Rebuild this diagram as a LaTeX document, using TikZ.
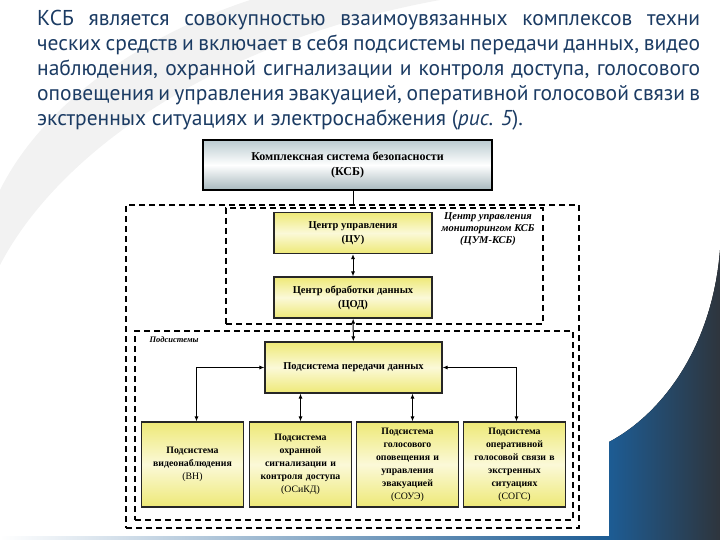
\documentclass[tikz,border=0pt]{standalone}
\usepackage{fontspec}
\setmainfont{PT Sans}
\newfontfamily\schemefont{Liberation Serif}
\usepackage{tikz}
\usetikzlibrary{arrows.meta,positioning,calc}
\definecolor{SlideBlue}{HTML}{1B3B63}
\definecolor{BoxYellow}{HTML}{EEE977}
\definecolor{BoxPale}{HTML}{FBF9D8}
\definecolor{SteelTop}{HTML}{BACBD0}
\definecolor{SteelBottom}{HTML}{A7B8BD}
\definecolor{CornerBlue}{HTML}{1D5C94}
\definecolor{CornerDark}{HTML}{2E353D}

\begin{document}
\begin{tikzpicture}[x=1pt, y=-1pt, >=Latex,
  ksbbox/.style={draw=black, line width=1.6pt, top color=SteelTop, bottom color=SteelBottom, middle color=white, minimum width=289pt, minimum height=50pt, align=center, font=\schemefont\bfseries\fontsize{12}{15}\selectfont},
  centre/.style={draw=black!85, line width=1.1pt, top color=BoxYellow, bottom color=BoxYellow, middle color=BoxPale, minimum width=158pt, minimum height=41pt, align=center, font=\schemefont\bfseries\fontsize{10.5}{14}\selectfont},
  sub/.style={centre, minimum width=99pt, minimum height=85pt, text width=95pt, font=\schemefont\bfseries\fontsize{9.8}{13}\selectfont},
  frame/.style={draw=black, line width=1.3pt, dash pattern=on 6pt off 4pt},
  tag/.style={font=\schemefont\bfseries\itshape\fontsize{10.5}{12}\selectfont, align=center},
  link/.style={{Latex[length=5pt,width=4pt]}-{Latex[length=5pt,width=4pt]}, line width=1pt}]
\useasboundingbox (0,0) rectangle (720,540);

% slide decoration
\fill[gray!10] (250,0) .. controls (130,40) and (40,110) .. (0,190) -- (0,265) .. controls (60,150) and (220,40) .. (440,0) -- cycle;
\fill[left color=CornerBlue, right color=CornerDark] (609,540) -- (609,442) .. controls (660,415) and (712,350) .. (720,250) -- (720,540) -- cycle;
\fill[left color=white, right color=CornerBlue] (0,536) rectangle (609,540);

% text
\node[anchor=north west, inner sep=0pt, text=SlideBlue, align=left, font=\fontsize{21.5}{25}\selectfont] (para) at (37,10) {%
\makebox[663pt][s]{КСБ является совокупностью взаимоувязанных комплексов техни}\\
\makebox[663pt][s]{ческих средств и включает в себя подсистемы передачи данных, видео}\\
\makebox[663pt][s]{наблюдения, охранной сигнализации и контроля доступа, голосового}\\
\makebox[663pt][s]{оповещения и управления эвакуацией, оперативной голосовой связи в}\\
экстренных ситуациях и электроснабжения (\textit{рис. 5}).};

% frames
\node[frame, minimum width=453pt, minimum height=323pt] (outer) at (352.5,366.5) {};
\node[frame, minimum width=317pt, minimum height=116pt] (cum) at (384.5,266) {};
\node[frame, minimum width=438pt, minimum height=189pt] (subs) at (354,425.5) {};
\node[tag] (cumlabel) at (488,229) {Центр управления\\мониторингом КСБ\\(ЦУМ-КСБ)};
\node[tag, anchor=west, font=\schemefont\bfseries\itshape\fontsize{8.5}{10}\selectfont] (sublabel) at (146,340) {Подсистемы};

% boxes
\node[ksbbox] (ksb) at (347.5,165) {Комплексная система безопасности\\(КСБ)};
\node[centre] (cu) at (353,233) {Центр управления\\(ЦУ)};
\node[centre] (cod) at (353,297.5) {Центр обработки данных\\(ЦОД)};
\node[centre, minimum width=177pt, minimum height=51pt] (pdd) at (353.5,367.5) {Подсистема передачи данных};
\node[sub] (vn) at (192.5,464.5) {Подсистема\\видеонаблюдения\\{\mdseries (ВН)}};
\node[sub] (oskd) at (300.5,464.5) {Подсистема\\охранной\\сигнализации и\\контроля доступа\\{\mdseries (ОСиКД)}};
\node[sub] (soue) at (407.5,464.5) {Подсистема\\голосового\\оповещения и\\управления\\эвакуацией\\{\mdseries (СОУЭ)}};
\node[sub] (sogs) at (514.5,464.5) {Подсистема\\оперативной\\голосовой связи в\\экстренных\\ситуациях\\{\mdseries (СОГС)}};

% connectors
\draw[line width=1pt] (cu.north |- ksb.south) -- (cu.north |- outer.north);
\draw[link] (cu) -- (cod);
\draw[link] (cod) -- (pdd);
\draw[link] (pdd.west) -| ([xshift=4pt]vn.north);
\draw[link] (pdd.east) -| ([xshift=2pt]sogs.north);
\draw[link] (pdd.south -| oskd.north) -- (oskd.north);
\draw[link] ([xshift=5pt]soue.north |- pdd.south) -- ([xshift=5pt]soue.north);

\end{tikzpicture}
\end{document}
